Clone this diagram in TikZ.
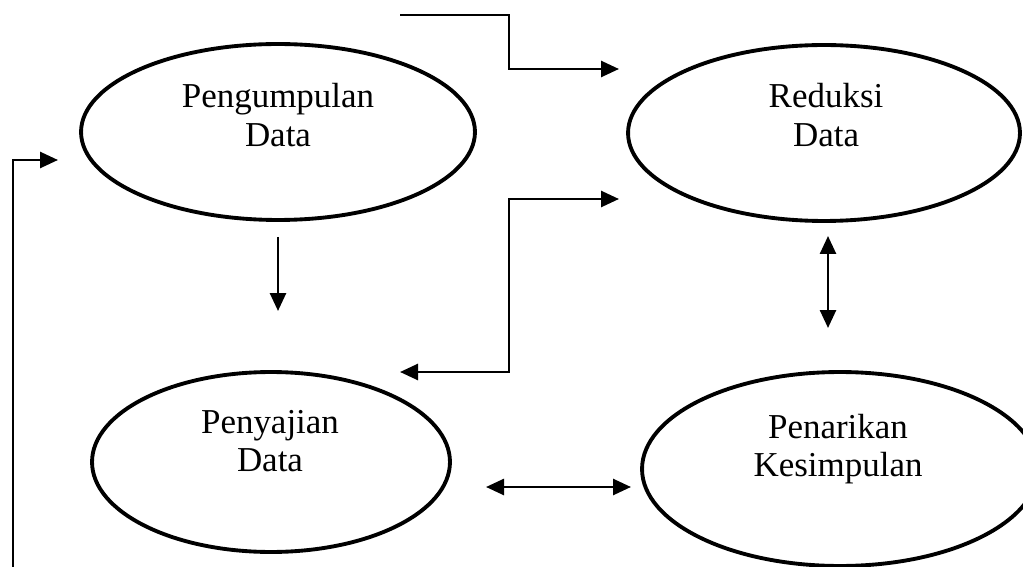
\documentclass[tikz,border=0pt]{standalone}
\usepackage{fontspec}
\setmainfont{Liberation Serif}
\usetikzlibrary{shapes.geometric,arrows.meta}
\begin{document}
\begin{tikzpicture}[x=0.02cm,y=-0.02cm,
  oval/.style={draw,ellipse,line width=2.2pt,inner sep=0pt},
  lbl/.style={align=center,font=\fontsize{19.9}{21.8}\selectfont,inner sep=0pt},
  tip/.style={},
  conn/.style={line width=1.5pt,-{Triangle[length=0.36cm,width=0.32cm]}},
  dconn/.style={line width=1.5pt,{Triangle[length=0.36cm,width=0.32cm]}-{Triangle[length=0.36cm,width=0.32cm]}}]
\useasboundingbox (0,0) rectangle (1023,567);
% ellipses
\node[oval,minimum width=7.88cm,minimum height=3.52cm] (e1) at (278,132) {};
\node[oval,minimum width=7.84cm,minimum height=3.52cm] (e2) at (824,133) {};
\node[oval,minimum width=7.16cm,minimum height=3.6cm] (e3) at (271,462) {};
\node[oval,minimum width=7.92cm,minimum height=3.88cm] (e4) at (840,469) {};
% labels
\node[lbl] (t1) at (278,115) {Pengumpulan\\Data};
\node[lbl] (t2) at (826,115) {Reduksi\\Data};
\node[lbl] (t3) at (270,441) {Penyajian\\Data};
\node[lbl] (t4) at (838,449) {Penarikan\\Kesimpulan};
% connector points
\coordinate (a0) at (400,15);
\coordinate (a1) at (509,15);
\coordinate (a2) at (509,69);
\coordinate (a3) at (619,69);
\coordinate (b0) at (13,567);
\coordinate (b1) at (13,160);
\coordinate (b2) at (58,160);
\coordinate (c0) at (619,199);
\coordinate (c1) at (509,199);
\coordinate (c2) at (509,372);
\coordinate (c3) at (400,372);
\coordinate (d0) at (278,237);
\coordinate (d1) at (278,311);
\coordinate (f0) at (828,236);
\coordinate (f1) at (828,328);
\coordinate (g0) at (486,487);
\coordinate (g1) at (631,487);
% connectors
\draw[conn] (a0) -- (a1) -- (a2) -- (a3);
\draw[conn] (b0) -- (b1) -- (b2);
\draw[dconn] (c0) -- (c1) -- (c2) -- (c3);
\draw[conn] (d0) -- (d1);
\draw[dconn] (f0) -- (f1);
\draw[dconn] (g0) -- (g1);
\end{tikzpicture}
\end{document}
